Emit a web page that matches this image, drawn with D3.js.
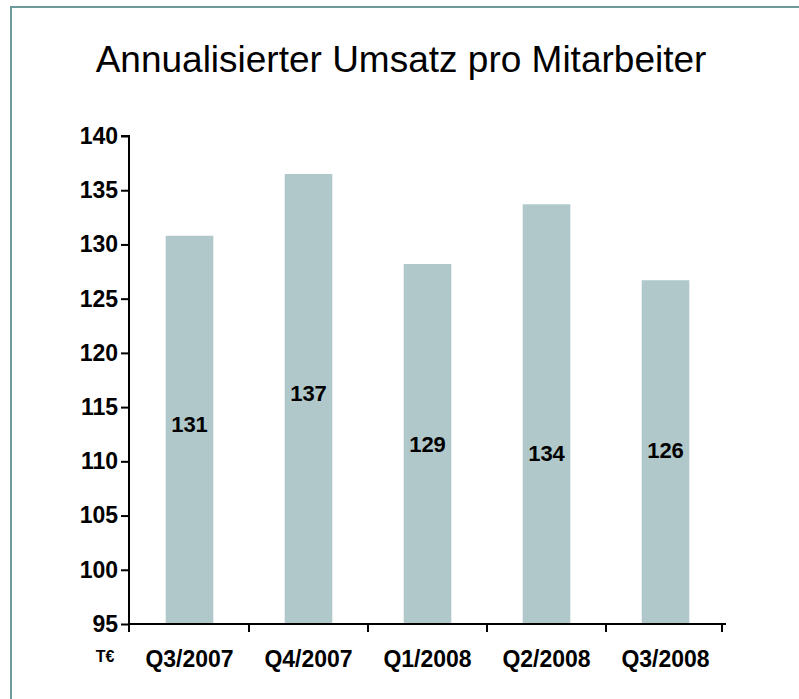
<!DOCTYPE html>
<html>
<head>
<meta charset="utf-8">
<script src="https://cdn.jsdelivr.net/npm/d3@7"></script>
<style>
  body { margin: 0; background: #fff; }
  svg text { font-family: "Liberation Sans", Arial, sans-serif; fill: #000; }
</style>
</head>
<body>
<div class="chart"></div>
<script>
// Data.
const quarters = ['Q3/2007', 'Q4/2007', 'Q1/2008', 'Q2/2008', 'Q3/2008'];
const revenue = [130.8, 136.5, 128.2, 133.7, 126.7];
const revenueLabels = ['131', '137', '129', '134', '126'];
const yTicks = [95, 100, 105, 110, 115, 120, 125, 130, 135, 140];

const title = 'Annualisierter Umsatz pro Mitarbeiter';
const unit = 'T€';

// Where the value labels sit inside the bars (in axis units, as in the original).
const labelBase = [112.7, 115.6, 110.9, 110.0, 110.3];

const width = 799, height = 699;
const margin = { top: 136, right: 75, bottom: 75, left: 129 };

const svg = d3.select('.chart')
  .append('svg')
  .attr('width', width)
  .attr('height', height);

// Frame.
svg.append('rect')
  .attr('x', 11)
  .attr('y', 7)
  .attr('width', 820)
  .attr('height', 720)
  .attr('fill', 'none')
  .attr('stroke', '#6e9a9b')
  .attr('stroke-width', 2);

// Title.
svg.append('text')
  .attr('x', 401)
  .attr('y', 72)
  .attr('text-anchor', 'middle')
  .style('font-size', '37px')
  .text(title);

// Scales.
const xScale = d3.scaleBand()
  .domain(quarters)
  .range([margin.left + 1, 725])
  .paddingInner(0.6)
  .paddingOuter(0.3);

const yScale = d3.scaleLinear()
  .domain([95, 140])
  .range([height - margin.bottom, margin.top]);

// Bars.
svg.append('g')
  .attr('class', 'bars')
  .selectAll('rect')
  .data(revenue)
  .join('rect')
  .attr('x', (d, i) => xScale(quarters[i]))
  .attr('y', d => yScale(d))
  .attr('width', xScale.bandwidth())
  .attr('height', d => yScale(95) - yScale(d))
  .attr('fill', '#b0c8c9');

// Value labels.
svg.append('g')
  .selectAll('text')
  .data(revenueLabels)
  .join('text')
  .attr('x', (d, i) => xScale(quarters[i]) + xScale.bandwidth() / 2)
  .attr('y', (d, i) => yScale(labelBase[i]))
  .attr('text-anchor', 'middle')
  .style('font-size', '22px')
  .style('font-weight', 'bold')
  .text(d => d);

// Y axis.
const yAxis = d3.axisLeft(yScale)
  .tickValues(yTicks)
  .tickFormat(d3.format('d'))
  .tickSizeInner(8)
  .tickSizeOuter(8)
  .tickPadding(3);

const yAxisDraw = svg.append('g')
  .attr('transform', `translate(${margin.left},0)`)
  .call(yAxis);

yAxisDraw.selectAll('text')
  .style('font-size', '23px')
  .style('font-weight', 'bold')
  .attr('font-family', null);
yAxisDraw.selectAll('path, line').attr('stroke', '#000').attr('stroke-width', 2);
yAxisDraw.select('.domain').attr('d', `M-8,${margin.top}H0V${height - margin.bottom}`);

// X axis: ticks sit on the category boundaries.
const boundaries = quarters.map(q => xScale(q) - xScale.step() * xScale.paddingInner() / 2);
boundaries[0] = margin.left;
boundaries.push(722);

const xAxisDraw = svg.append('g')
  .attr('transform', `translate(0,${height - margin.bottom})`);

xAxisDraw.append('line')
  .attr('x1', margin.left)
  .attr('x2', 726)
  .attr('stroke', '#000')
  .attr('stroke-width', 2);

xAxisDraw.selectAll('.tick')
  .data(boundaries)
  .join('line')
  .attr('class', 'tick')
  .attr('x1', d => d)
  .attr('x2', d => d)
  .attr('y1', 0)
  .attr('y2', 8)
  .attr('stroke', '#000')
  .attr('stroke-width', 2);

xAxisDraw.selectAll('.label')
  .data(quarters)
  .join('text')
  .attr('class', 'label')
  .attr('x', d => xScale(d) + xScale.bandwidth() / 2)
  .attr('y', 43)
  .attr('text-anchor', 'middle')
  .style('font-size', '23px')
  .style('font-weight', 'bold')
  .text(d => d);

// Unit.
svg.append('text')
  .attr('x', 105)
  .attr('y', 662)
  .attr('text-anchor', 'middle')
  .style('font-size', '16px')
  .style('font-weight', 'bold')
  .text(unit);
</script>
</body>
</html>
